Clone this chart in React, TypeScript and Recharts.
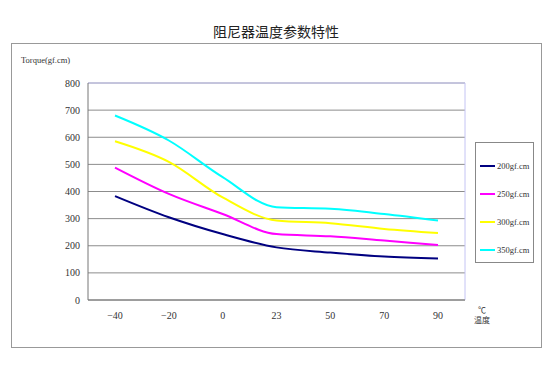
import { LineChart, Line, XAxis, YAxis, CartesianGrid, ReferenceLine } from 'recharts';

const temps = ['−40', '−20', '0', '23', '50', '70', '90'];
const torque200 = [383, 305, 243, 194, 175, 160, 153];
const torque250 = [488, 391, 317, 243, 235, 219, 203];
const torque300 = [585, 509, 378, 293, 283, 262, 247];
const torque350 = [680, 588, 453, 342, 336, 317, 293];
const yTicks = [0, 100, 200, 300, 400, 500, 600, 700, 800];

const series = [
    { key: 's200', name: '200gf.cm', values: torque200, color: '#000080' },
    { key: 's250', name: '250gf.cm', values: torque250, color: '#ff00ff' },
    { key: 's300', name: '300gf.cm', values: torque300, color: '#ffff00' },
    { key: 's350', name: '350gf.cm', values: torque350, color: '#00ffff' },
];

const data = temps.map((t, i) => {
    const row: Record<string, string | number> = { temp: t };
    series.forEach(s => { row[s.key] = s.values[i]; });
    return row;
});

const serif = '"Liberation Serif", "DejaVu Serif", serif';
const cjk = '"Noto Sans CJK SC", sans-serif';

// legend drawn as a plain box, like the spreadsheet original
const LegendBox = () => (
    <div style={{
        position: 'absolute', left: 475, top: 142, width: 59, height: 121,
        border: '1px solid #888', boxSizing: 'border-box', paddingTop: 9, background: '#fff'
    }}>
        {series.map(s => (
            <div key={s.key} style={{ display: 'flex', alignItems: 'center', height: 28 }}>
                <div style={{ width: 15, height: 2, background: s.color, marginLeft: 4, marginRight: 2 }} />
                <span style={{ fontFamily: serif, fontSize: 8.5, color: '#333', whiteSpace: 'nowrap' }}>{s.name}</span>
            </div>
        ))}
    </div>
);

export default function App() {
    return (
        <div style={{ position: 'absolute', left: 0, top: 0, width: 552, height: 373, background: '#fff' }}>
            <div style={{ position: 'absolute', left: 0, width: 552, top: 21, textAlign: 'center', fontFamily: cjk, fontSize: 14, color: '#222' }}>
                阻尼器温度参数特性
            </div>
            <div style={{ position: 'absolute', left: 11, top: 43, width: 531, height: 305, border: '1px solid #999', boxSizing: 'border-box' }} />
            <div style={{ position: 'absolute', left: 21, top: 55, fontFamily: serif, fontSize: 8.5, color: '#333' }}>
                Torque(gf.cm)
            </div>
            <div style={{ position: 'absolute', left: 474, top: 305, fontFamily: cjk, fontSize: 8, color: '#333', lineHeight: '10px', textAlign: 'center' }}>
                <div>℃</div>
                <div>温度</div>
            </div>

            <LineChart
                width={552}
                height={373}
                data={data}
                margin={{ top: 83, right: 87, left: 48, bottom: 43 }}
                style={{ position: 'absolute', left: 0, top: 0 }}
            >
                <CartesianGrid vertical={false} stroke="#8c8c8c" />
                <CartesianGrid
                    horizontal={false}
                    stroke="#c4c4f4"
                    verticalCoordinatesGenerator={({ offset }: any) => [offset.left + offset.width]}
                />
                <ReferenceLine y={800} stroke="#c4c4f4" />
                <XAxis
                    dataKey="temp"
                    height={30}
                    padding={{ left: 27, right: 27 }}
                    tickLine={false}
                    axisLine={{ stroke: '#777' }}
                    tick={{ fontSize: 10, fontFamily: serif, fill: '#333' }}
                    tickMargin={6}
                />
                <YAxis
                    width={40}
                    domain={[0, 800]}
                    ticks={yTicks}
                    interval={0}
                    tickLine={false}
                    axisLine={{ stroke: '#777' }}
                    tick={{ fontSize: 10, fontFamily: serif, fill: '#333' }}
                />
                {series.map(s => (
                    <Line
                        key={s.key}
                        type="monotone"
                        dataKey={s.key}
                        name={s.name}
                        stroke={s.color}
                        strokeWidth={2}
                        dot={false}
                        isAnimationActive={false}
                    />
                ))}
            </LineChart>
            <LegendBox />
        </div>
    );
}
